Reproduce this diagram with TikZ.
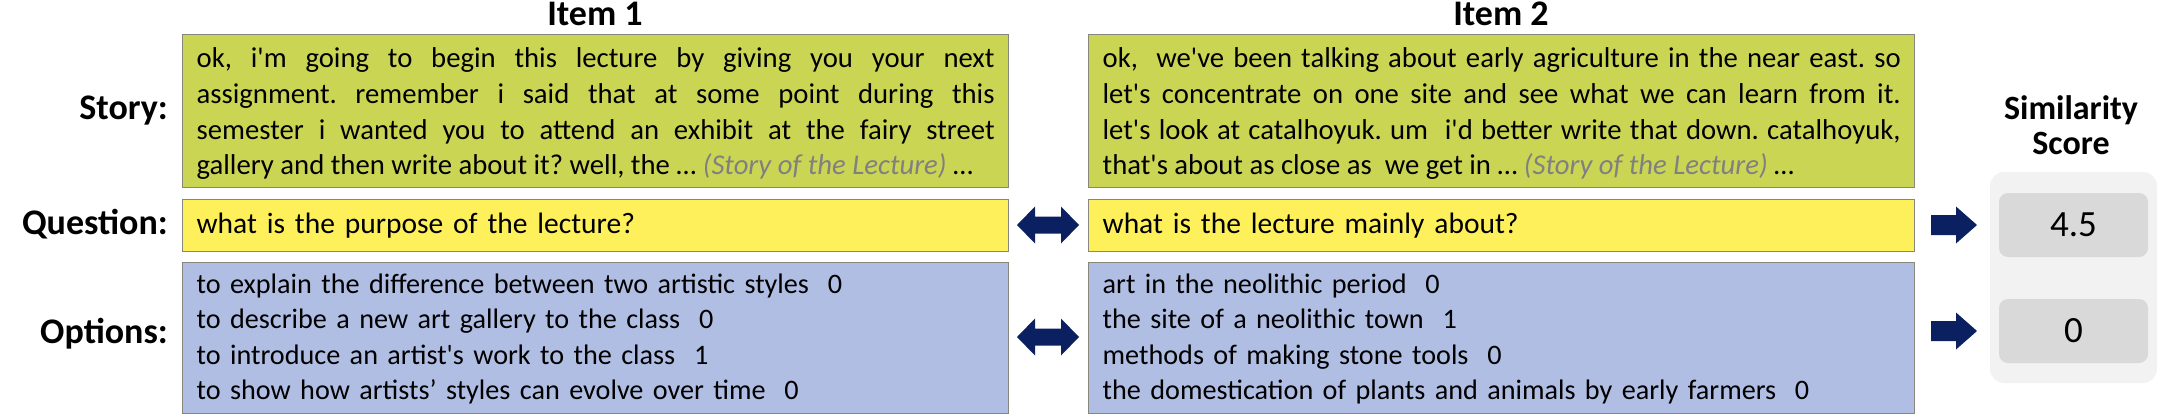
\documentclass[tikz,border=0pt]{standalone}
\usepackage{fontspec}
\newfontfamily\carlito{Carlito}
\definecolor{storyc}{RGB}{203,213,84}
\definecolor{questc}{RGB}{253,240,90}
\definecolor{optc}{RGB}{177,190,228}
\definecolor{edgec}{RGB}{135,135,125}
\definecolor{navyc}{RGB}{10,32,96}
\definecolor{panelc}{RGB}{242,242,242}
\definecolor{scorec}{RGB}{217,217,217}
\definecolor{noteg}{RGB}{128,128,128}
\newcommand{\storynote}{{\itshape\color{noteg}(Story of the Lecture)}}
\frenchspacing
\begin{document}
\frenchspacing
\begin{tikzpicture}[x=1pt,y=-1pt, font=\carlito\frenchspacing,
  box/.style={draw=edgec, line width=1.3pt, anchor=north west, minimum width=826pt, inner sep=0pt},
  storybox/.style={box, fill=storyc, minimum height=153pt},
  questbox/.style={box, fill=questc, minimum height=52pt},
  optbox/.style={box, fill=optc, minimum height=151pt},
  boxtext/.style={inner xsep=14pt, inner ysep=0pt, text width=798pt},
  storytext/.style={boxtext, align=justify, font=\carlito\frenchspacing\fontsize{28.7}{35.7}\selectfont},
  questtext/.style={boxtext, align=left, font=\carlito\fontsize{29.5}{36}\selectfont},
  opttext/.style={boxtext, align=left, font=\carlito\fontsize{28.2}{35.5}\selectfont},
  rowlabel/.style={anchor=east, inner sep=0pt, font=\carlito\bfseries\fontsize{36}{40}\selectfont},
  itemtitle/.style={inner sep=0pt, font=\carlito\bfseries\fontsize{36}{40}\selectfont},
  scorebox/.style={fill=scorec, rounded corners=9pt, minimum width=149pt, minimum height=64pt, inner sep=0pt, font=\carlito\fontsize{37}{40}\selectfont},
  dblarrow/.pic={\fill[navyc] (-31,0) -- (-13,-18.5) -- (-13,-8.5) -- (13,-8.5) -- (13,-18.5) -- (31,0) -- (13,18.5) -- (13,8.5) -- (-13,8.5) -- (-13,18.5) -- cycle;},
  rarrow/.pic={\fill[navyc] (-23,-10) -- (2,-10) -- (2,-18.5) -- (23,0) -- (2,18.5) -- (2,10) -- (-23,10) -- cycle;}
]
\useasboundingbox (0,0) rectangle (2180,418);

% titles
\node[itemtitle] (t1) at (595,14) {Item 1};
\node[itemtitle] (t2) at (1501,14) {Item 2};

% row labels
\node[rowlabel] (ls) at (168,111) {Story:};
\node[rowlabel] (lq) at (168,224) {Question:};
\node[rowlabel] (lo) at (168,334) {Options:};

% item 1
\node[storybox] (s1) at (182,34) {};
\node[storytext] (s1t) at ([yshift=-2.5pt]s1.center) {ok, i'm going to begin this lecture by giving you your next\linebreak
assignment. remember i said that at some point during this\linebreak
semester i wanted you to attend an exhibit at the fairy street\linebreak
gallery and then write about it? well, the … \storynote{} …};
\node[questbox] (q1) at (182,199) {};
\node[questtext] (q1t) at (q1.center) {what is the purpose of the lecture?};
\node[optbox] (o1) at (182,262) {};
\node[opttext] (o1t) at ([yshift=-1pt]o1.center) {to explain the difference between two artistic styles\ \ 0\\
to describe a new art gallery to the class\ \ 0\\
to introduce an artist's work to the class\ \ 1\\
to show how artists’ styles can evolve over time\ \ 0};

% item 2
\node[storybox] (s2) at (1088,34) {};
\node[storytext] (s2t) at ([yshift=-2.5pt]s2.center) {ok,\ \ we've been talking about early agriculture in the near east. so\linebreak
let's concentrate on one site and see what we can learn from it.\linebreak
let's look at catalhoyuk. um\ \ i'd better write that down. catalhoyuk,\linebreak
that's about as close as\ \ we get in … \storynote{} …};
\node[questbox] (q2) at (1088,199) {};
\node[questtext] (q2t) at (q2.center) {what is the lecture mainly about?};
\node[optbox] (o2) at (1088,262) {};
\node[opttext] (o2t) at ([yshift=-1pt]o2.center) {art in the neolithic period\ \ 0\\
the site of a neolithic town\ \ 1\\
methods of making stone tools\ \ 0\\
the domestication of plants and animals by early farmers\ \ 0};

% arrows between items
\pic at (1048,225) {dblarrow};
\pic at (1048,337) {dblarrow};

% similarity panel
\node[itemtitle, align=center, font=\carlito\bfseries\fontsize{34}{35}\selectfont] (st) at (2071,125) {Similarity\\Score};
\fill[panelc, rounded corners=14pt] (1990,172) rectangle (2157,383);
\node[scorebox] (sc1) at (2073.5,225) {4.5};
\node[scorebox] (sc2) at (2073.5,331) {0};

\pic at (1954,225) {rarrow};
\pic at (1954,331) {rarrow};
\end{tikzpicture}
\end{document}
